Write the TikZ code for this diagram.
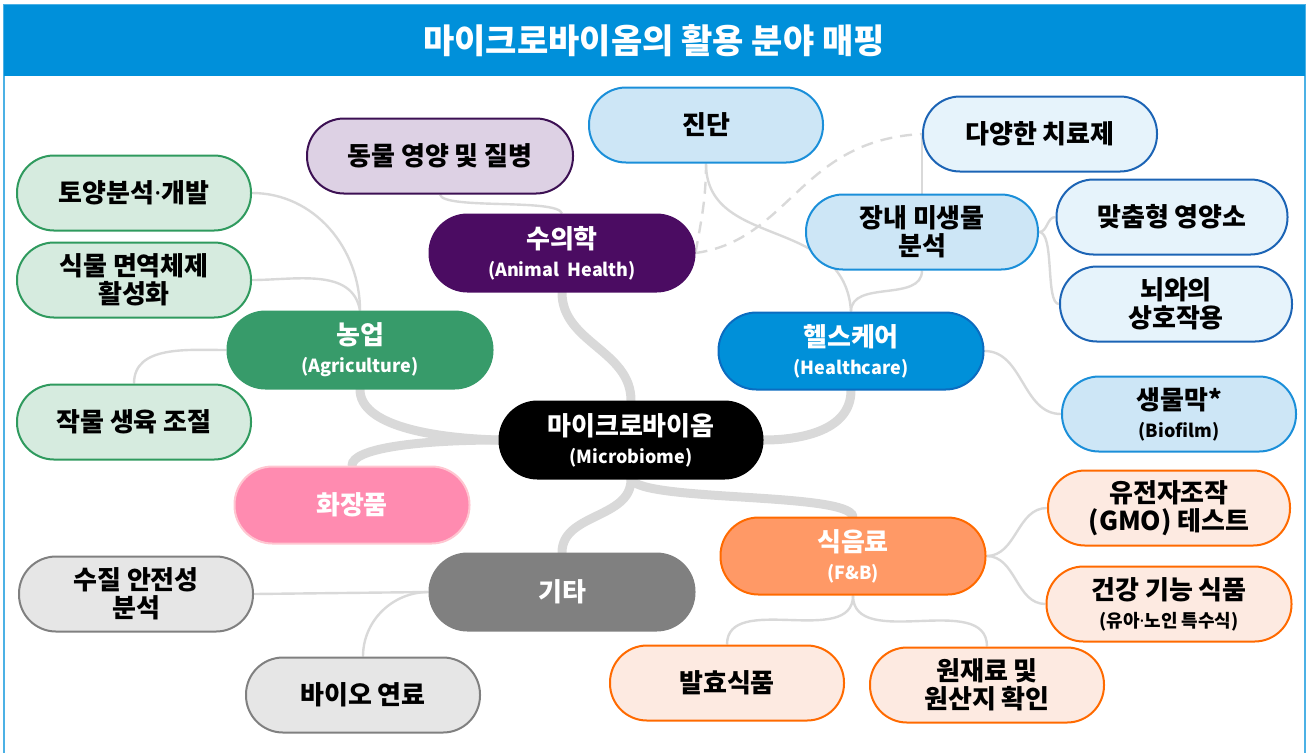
\documentclass[tikz,border=0pt]{standalone}
\usepackage{fontspec}
\setmainfont{Noto Sans CJK KR}
\newfontfamily\dotfont{Noto Sans}
\usepackage{tikz}
\usetikzlibrary{positioning}

\definecolor{titleBlue}{HTML}{0090DA}
\definecolor{lineGray}{HTML}{D9D9D9}
\definecolor{vetPurple}{HTML}{4B0C62}
\definecolor{animalFill}{HTML}{DDD1E4}
\definecolor{animalLine}{HTML}{3C1053}
\definecolor{agriGreen}{HTML}{379B6A}
\definecolor{agriLeafFill}{HTML}{D6EBDF}
\definecolor{agriLeafLine}{HTML}{2F9A5E}
\definecolor{healthBlue}{HTML}{0090D9}
\definecolor{healthLine}{HTML}{0B6CC0}
\definecolor{diagFill}{HTML}{CDE6F6}
\definecolor{diagLine}{HTML}{1B8FD9}
\definecolor{therapyFill}{HTML}{E6F3FB}
\definecolor{therapyLine}{HTML}{1C64B5}
\definecolor{cosmeticPink}{HTML}{FF8BB0}
\definecolor{cosmeticLine}{HTML}{FFC6D1}
\definecolor{fnbOrange}{HTML}{FF9966}
\definecolor{fnbLine}{HTML}{FF6A00}
\definecolor{fnbLeafFill}{HTML}{FDEAE1}
\definecolor{otherGray}{HTML}{808080}
\definecolor{otherLeafFill}{HTML}{E6E6E6}

\pgfdeclarelayer{background}
\pgfsetlayers{background,main}

\newcommand{\engsub}[1]{{\fontsize{9}{11}\selectfont #1}}
\newcommand{\middot}{{\dotfont\bfseries ·}}

\tikzstyle{hub} = [rectangle, rounded corners=19pt, minimum width=132.5pt, minimum height=38.5pt, text centered, align=center, text=white, line width=1pt, font=\bfseries\fontsize{13}{14}\selectfont]
\tikzstyle{leaf} = [rectangle, rounded corners=18.5pt, minimum width=117pt, minimum height=37.5pt, text centered, align=center, text=black, line width=1pt, font=\bfseries\fontsize{13}{14}\selectfont]
\tikzstyle{center} = [hub, minimum width=131.5pt, draw=black, fill=black]
\tikzstyle{vetHub} = [hub, draw=vetPurple, fill=vetPurple]
\tikzstyle{agriHub} = [hub, draw=agriGreen, fill=agriGreen]
\tikzstyle{healthHub} = [hub, draw=healthLine, fill=healthBlue]
\tikzstyle{cosmeticHub} = [hub, minimum width=117.5pt, draw=cosmeticLine, fill=cosmeticPink]
\tikzstyle{fnbHub} = [hub, draw=fnbLine, fill=fnbOrange]
\tikzstyle{otherHub} = [hub, draw=otherGray, fill=otherGray]
\tikzstyle{animalLeaf} = [leaf, draw=animalLine, fill=animalFill]
\tikzstyle{agriLeaf} = [leaf, draw=agriLeafLine, fill=agriLeafFill]
\tikzstyle{diagLeaf} = [leaf, draw=diagLine, fill=diagFill]
\tikzstyle{therapyLeaf} = [leaf, draw=therapyLine, fill=therapyFill]
\tikzstyle{fnbLeaf} = [leaf, draw=fnbLine, fill=fnbLeafFill]
\tikzstyle{otherLeaf} = [leaf, draw=otherGray, fill=otherLeafFill]
\tikzstyle{trunk} = [draw=lineGray, line width=4.5pt, line cap=round]
\tikzstyle{twig} = [draw=lineGray, line width=1.2pt]
\tikzstyle{dashtwig} = [twig, dashed, dash pattern=on 6pt off 4pt]

\begin{document}
\begin{tikzpicture}[x=0.5pt, y=-0.5pt, node distance=43.5pt]

\useasboundingbox (0,0) rectangle (1313,752);
\draw [titleBlue!70, line width=1pt] (4,5) rectangle (1305,780);
\fill [titleBlue] (4,5) rectangle (1305,76);
\node (title) [text=white, font=\bfseries\fontsize{17}{20}\selectfont] at (654,41) {마이크로바이옴의 활용 분야 매핑};

\node (microbiome) [center] at (631,440) {마이크로바이옴\\\engsub{(Microbiome)}};
\node (vet) [vetHub] at (562,253) {수의학\\\engsub{(Animal\ \ Health)}};
\node (agri) [agriHub] at (360,350) {농업\\\engsub{(Agriculture)}};
\node (health) [healthHub] at (851,351) {헬스케어\\\engsub{(Healthcare)}};
\node (cosmetic) [cosmeticHub] at (352,505) {화장품};
\node (fnb) [fnbHub] at (853,556) {식음료\\\engsub{(F\&B)}};
\node (other) [otherHub] at (562,592) {기타};

\node (animal) [animalLeaf, minimum width=133pt] at (440,156) {동물 영양 및 질병};
\node (soil) [agriLeaf] at (134,193) {토양분석\middot 개발};
\node (plant) [agriLeaf, below of=soil] {식물 면역체제\\활성화};
\node (crop) [agriLeaf] at (134,422) {작물 생육 조절};

\node (diag) [diagLeaf] at (706,125) {진단};
\node (therapy) [therapyLeaf] at (1040,134) {다양한 치료제};
\node (gut) [diagLeaf, minimum width=116pt] at (922,232) {장내 미생물\\분석};
\node (nutri) [therapyLeaf, minimum width=115.5pt] at (1172,217) {맞춤형 영양소};
\node (brain) [therapyLeaf, minimum width=116pt] at (1176,304) {뇌와의\\상호작용};
\node (biofilm) [diagLeaf] at (1179,414) {생물막*\\\engsub{(Biofilm)}};

\node (gmo) [fnbLeaf, minimum width=121pt] at (1169,508) {유전자조작\\(GMO) 테스트};
\node (func) [fnbLeaf, minimum width=122.5pt, below of=gmo, node distance=48pt] {건강 기능 식품\\\engsub{(유아\middot 노인 특수식)}};
\node (ferment) [fnbLeaf] at (727,683) {발효식품};
\node (rawmat) [fnbLeaf] at (987,685) {원재료 및\\원산지 확인};

\node (water) [otherLeaf] at (136,594) {수질 안전성\\분석};
\node (biofuel) [otherLeaf] at (363,695) {바이오 연료};

\begin{pgfonlayer}{background}
\draw [trunk] (microbiome.north) to[out=90,in=-90] (vet.south);
\draw [trunk] (microbiome.west) .. controls (430,438) and (360,425) .. (agri.south);
\draw [trunk] (microbiome.west) .. controls (420,440) and (352,448) .. (cosmetic.north);
\draw [trunk] (microbiome.east) to[out=0,in=-90] (health.south);
\draw [trunk] (microbiome.south) to[out=-90,in=90] (other.north);
\draw [trunk] (microbiome.south) .. controls (645,502) and (848,492) .. (fnb.north);

\draw [twig] (animal.south) .. controls (443,210) and (558,198) .. (vet.north);
\draw [twig] (soil.east) to[out=0,in=90] (agri.north);
\draw [twig] (plant.east) to[out=0,in=100] (agri.north);
\draw [twig] (crop.north) to[out=90,in=180] (agri.west);

\draw [twig] (diag.south) .. controls (706,250) and (845,215) .. (health.north);
\draw [twig] (gut.south) to[out=-90,in=90] (health.north);
\draw [twig] (gut.north) -- (therapy.west);
\draw [twig] (gut.east) to[out=0,in=180] (nutri.west);
\draw [twig] (gut.east) .. controls (1055,232) and (1045,304) .. (brain.west);
\draw [twig] (health.east) to[out=0,in=180] (biofilm.west);
\draw [dashtwig] (vet.east) to[out=80,in=-90] (diag.south);
\draw [dashtwig] (vet.east) .. controls (790,240) and (800,140) .. (therapy.west);

\draw [twig] (fnb.east) to[out=0,in=180] (gmo.west);
\draw [twig] (fnb.east) to[out=0,in=180] (func.west);
\draw [twig] (fnb.south) to[out=-90,in=90] (ferment.north);
\draw [twig] (fnb.south) to[out=-90,in=90] (rawmat.north);

\draw [twig] (other.west) -- (water.east);
\draw [twig] (other.west) to[out=180,in=90] (biofuel.north);
\end{pgfonlayer}
\end{tikzpicture}
\end{document}
